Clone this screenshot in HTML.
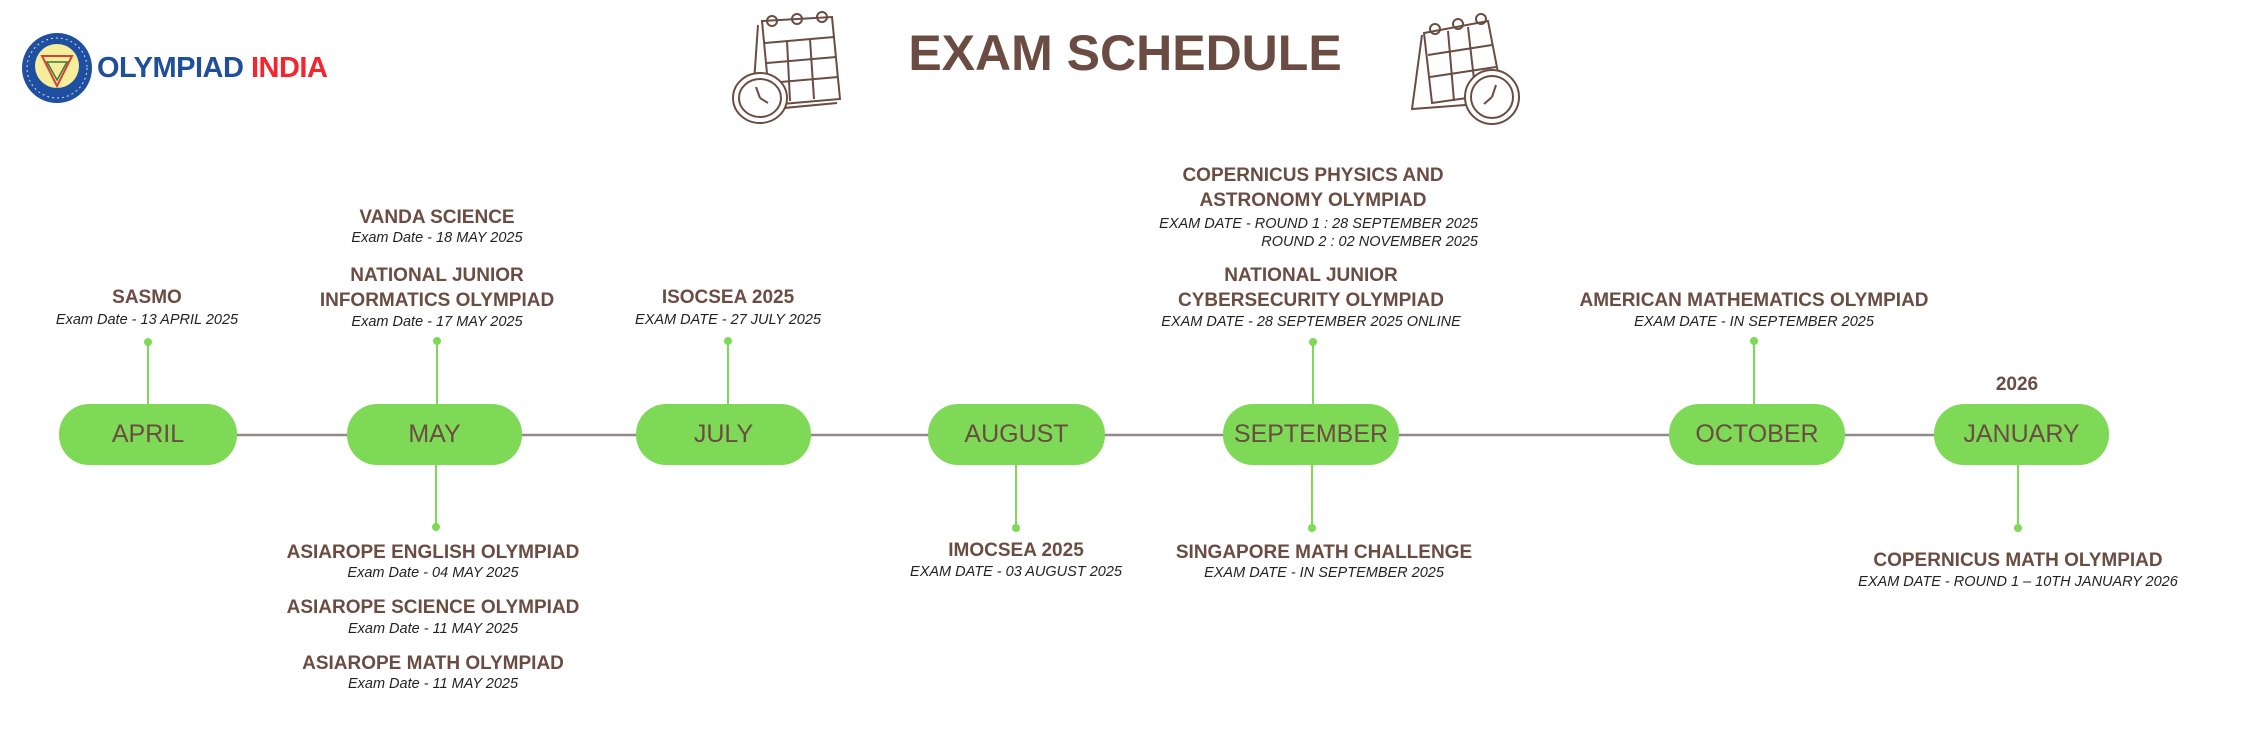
<!DOCTYPE html>
<html><head><meta charset="utf-8">
<style>
html,body{margin:0;padding:0;background:#fff;}
#c{position:relative;width:2250px;height:750px;overflow:hidden;background:#fff;font-family:"Liberation Sans",sans-serif;}
.h{position:absolute;transform:translateX(-50%);white-space:nowrap;font-weight:bold;font-size:19px;line-height:20px;color:#6b4c42;text-align:center;}
.d{position:absolute;transform:translateX(-50%);white-space:nowrap;font-style:italic;font-size:14.5px;line-height:15px;color:#222;text-align:center;}
.p{position:absolute;top:404px;height:61px;border-radius:30px;background:#7ed957;color:#6b4c42;font-size:25px;line-height:61px;text-align:center;}
svg{position:absolute;left:0;top:0;}
</style></head><body><div id="c">
<svg width="2250" height="750">
  <line x1="150" y1="435" x2="2020" y2="435" stroke="#948987" stroke-width="2.5"/>
  <g stroke="#7ed957" stroke-width="2" fill="#7ed957">
    <line x1="148" y1="342" x2="148" y2="405"/><circle cx="148" cy="342" r="3"/>
    <line x1="437" y1="341" x2="437" y2="405"/><circle cx="437" cy="341" r="3"/>
    <line x1="728" y1="341" x2="728" y2="405"/><circle cx="728" cy="341" r="3"/>
    <line x1="1313" y1="342" x2="1313" y2="405"/><circle cx="1313" cy="342" r="3"/>
    <line x1="1754" y1="341" x2="1754" y2="405"/><circle cx="1754" cy="341" r="3"/>
    <line x1="436" y1="465" x2="436" y2="527"/><circle cx="436" cy="527" r="3"/>
    <line x1="1016" y1="465" x2="1016" y2="528"/><circle cx="1016" cy="528" r="3"/>
    <line x1="1312" y1="465" x2="1312" y2="528"/><circle cx="1312" cy="528" r="3"/>
    <line x1="2018" y1="465" x2="2018" y2="528"/><circle cx="2018" cy="528" r="3"/>
  </g>
  <circle cx="57" cy="68" r="35" fill="#1e4fa0"/>
  <circle cx="57" cy="68" r="30" fill="none" stroke="#cfe0f5" stroke-width="1" stroke-dasharray="2 3"/>
  <circle cx="57" cy="66" r="22" fill="#f6ee9a"/>
  <polygon points="42,56 72,56 57,86" fill="none" stroke="#d4403a" stroke-width="2"/>
  <polygon points="47,62 67,62 57,80" fill="none" stroke="#3a7a3a" stroke-width="1.5"/>
  <g fill="none" stroke="#6b4c42" stroke-width="2">
    <g transform="translate(732,13)">
      <path d="M30 8 L100 4 L108 86 L38 92 Z"/>
      <path d="M26 12 L20 98 L105 90"/>
      <path d="M33 30 L102 24 M35 50 L104 44 M37 70 L106 64 M55 28 L58 88 M78 26 L82 86"/>
      <circle cx="40" cy="8" r="5"/><circle cx="65" cy="6" r="5"/><circle cx="90" cy="4" r="5"/>
      <ellipse cx="28" cy="85" rx="27" ry="25" fill="#fff"/>
      <ellipse cx="28" cy="85" rx="21" ry="19"/>
      <path d="M28 85 L24 74 M28 85 L36 90"/>
    </g>
    <g transform="translate(1410,13)">
      <path d="M14 20 L78 8 L92 80 L22 90 Z"/>
      <path d="M12 22 L2 96 L82 90"/>
      <path d="M18 42 L82 32 M20 64 L86 54 M38 18 L44 88 M58 14 L66 84"/>
      <circle cx="25" cy="16" r="5"/><circle cx="48" cy="11" r="5"/><circle cx="71" cy="6" r="5"/>
      <ellipse cx="82" cy="84" rx="27" ry="27" fill="#fff"/>
      <ellipse cx="82" cy="84" rx="21" ry="21"/>
      <path d="M82 84 L86 72 M82 84 L74 91"/>
    </g>
  </g>
</svg>
<div style="position:absolute;left:97px;top:51px;font-weight:bold;font-size:29px;line-height:34px;color:#1f4e9b;white-space:nowrap;letter-spacing:-0.5px;">OLYMPIAD <span style="color:#f2262e">INDIA</span></div>
<div style="position:absolute;left:1125px;top:25px;transform:translateX(-50%);font-weight:bold;font-size:50px;line-height:56px;color:#6b4c42;white-space:nowrap;">EXAM SCHEDULE</div>

<div class="p" style="left:59px;width:178px;">APRIL</div>
<div class="p" style="left:347px;width:175px;">MAY</div>
<div class="p" style="left:636px;width:175px;">JULY</div>
<div class="p" style="left:928px;width:177px;">AUGUST</div>
<div class="p" style="left:1223px;width:176px;">SEPTEMBER</div>
<div class="p" style="left:1669px;width:176px;">OCTOBER</div>
<div class="p" style="left:1934px;width:175px;">JANUARY</div>

<div class="h" style="left:147px;top:288px;">SASMO</div>
<div class="d" style="left:147px;top:313px;">Exam Date - 13 APRIL 2025</div>

<div class="h" style="left:437px;top:208px;">VANDA SCIENCE</div>
<div class="d" style="left:437px;top:231px;">Exam Date - 18 MAY 2025</div>
<div class="h" style="left:437px;top:266px;">NATIONAL JUNIOR</div>
<div class="h" style="left:437px;top:291px;">INFORMATICS OLYMPIAD</div>
<div class="d" style="left:437px;top:315px;">Exam Date - 17 MAY 2025</div>

<div class="h" style="left:728px;top:288px;">ISOCSEA 2025</div>
<div class="d" style="left:728px;top:313px;">EXAM DATE - 27 JULY 2025</div>

<div class="h" style="left:1313px;top:166px;">COPERNICUS PHYSICS AND</div>
<div class="h" style="left:1313px;top:191px;">ASTRONOMY OLYMPIAD</div>
<div class="d" style="left:auto;right:772px;transform:none;top:215px;text-align:right;line-height:18px;">EXAM DATE - ROUND 1 : 28 SEPTEMBER 2025<br>ROUND 2 : 02 NOVEMBER 2025</div>
<div class="h" style="left:1311px;top:266px;">NATIONAL JUNIOR</div>
<div class="h" style="left:1311px;top:291px;">CYBERSECURITY OLYMPIAD</div>
<div class="d" style="left:1311px;top:315px;">EXAM DATE - 28 SEPTEMBER 2025 ONLINE</div>

<div class="h" style="left:1754px;top:291px;">AMERICAN MATHEMATICS OLYMPIAD</div>
<div class="d" style="left:1754px;top:315px;">EXAM DATE - IN SEPTEMBER 2025</div>

<div class="h" style="left:2017px;top:375px;">2026</div>

<div class="h" style="left:433px;top:543px;">ASIAROPE ENGLISH OLYMPIAD</div>
<div class="d" style="left:433px;top:566px;">Exam Date - 04 MAY 2025</div>
<div class="h" style="left:433px;top:598px;">ASIAROPE SCIENCE OLYMPIAD</div>
<div class="d" style="left:433px;top:622px;">Exam Date - 11 MAY 2025</div>
<div class="h" style="left:433px;top:654px;">ASIAROPE MATH OLYMPIAD</div>
<div class="d" style="left:433px;top:677px;">Exam Date - 11 MAY 2025</div>

<div class="h" style="left:1016px;top:541px;">IMOCSEA 2025</div>
<div class="d" style="left:1016px;top:565px;">EXAM DATE - 03 AUGUST 2025</div>

<div class="h" style="left:1324px;top:543px;">SINGAPORE MATH CHALLENGE</div>
<div class="d" style="left:1324px;top:566px;">EXAM DATE - IN SEPTEMBER 2025</div>

<div class="h" style="left:2018px;top:551px;">COPERNICUS MATH OLYMPIAD</div>
<div class="d" style="left:2018px;top:575px;">EXAM DATE - ROUND 1 – 10TH JANUARY 2026</div>
</div></body></html>
